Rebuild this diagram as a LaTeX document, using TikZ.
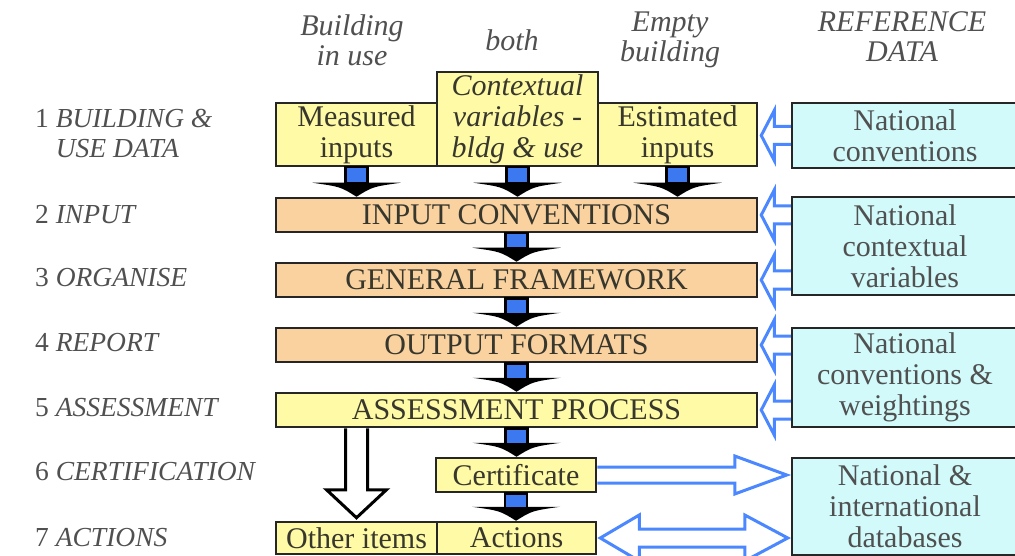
\documentclass[tikz,border=0pt]{standalone}
\usepackage{fontspec}
\setmainfont{LiberationSerif}[Extension=.ttf, UprightFont=*-Regular, ItalicFont=*-Italic, BoldFont=*-Bold, BoldItalicFont=*-BoldItalic]
\usetikzlibrary{calc}
\definecolor{yel}{RGB}{255,250,165}
\definecolor{pch}{RGB}{250,210,160}
\definecolor{cyn}{RGB}{210,250,250}
\definecolor{bsq}{RGB}{60,120,240}
\definecolor{abl}{RGB}{75,135,255}
\definecolor{txt}{RGB}{55,55,45}
\definecolor{labc}{RGB}{80,80,80}
\tikzset{
 box/.style={draw=black!85, line width=2.5pt, inner sep=0pt, align=center, text=txt, font=\fontsize{30}{31}\selectfont},
 ybox/.style={box, fill=yel},
 pbox/.style={box, fill=pch},
 rbox/.style={box, fill=cyn, minimum width=226pt, text=labc},
 lbl/.style={anchor=west, inner sep=0pt, align=left, text=labc, font=\fontsize{27.5}{30}\selectfont},
 hdr/.style={inner sep=0pt, align=center, text=labc, font=\fontsize{30}{30}\selectfont\itshape},
}
\newcommand\FatArr[2]{%
 \path[fill=black] let \p1=(#1), \p2=(#2) in
   (\x1-44pt,\y2+14pt) .. controls (\x1-16pt,\y2+10pt) .. (\x1,\y2)
   .. controls (\x1+16pt,\y2+10pt) .. (\x1+44pt,\y2+14pt) -- cycle;
 \path[fill=bsq, draw=black, line width=2.5pt] let \p1=(#1), \p2=(#2) in
   (\x1-11pt,\y1) rectangle (\x1+11pt,\y2+13pt);
}
\newcommand\HolArr[2]{%
 \path[draw=black, fill=white, line width=3pt] let \p1=(#1), \p2=(#2) in
  (\x2-11pt,\y1) -- (\x2-11pt,\y2+31pt) -- (\x2-30pt,\y2+31pt) -- (\x2,\y2+3pt) -- (\x2+30pt,\y2+31pt) -- (\x2+11pt,\y2+31pt) -- (\x2+11pt,\y1);
}
\newcommand\LArr[2]{%
 \path[draw=abl, fill=white, line width=3pt] let \p1=(#1), \p2=(#2) in
  (\x1,\y2+9pt) -- (\x2+16pt,\y2+9pt) -- (\x2+16pt,\y2+25pt) -- (\x2+3pt,\y2) -- (\x2+16pt,\y2-25pt) -- (\x2+16pt,\y2-9pt) -- (\x1,\y2-9pt);
}
\newcommand\RArr[2]{%
 \path[draw=abl, fill=white, line width=3pt] let \p1=(#1), \p2=(#2) in
  (\x1,\y2+8pt) -- (\x2-52pt,\y2+8pt) -- (\x2-52pt,\y2+19pt) -- (\x2,\y2) -- (\x2-52pt,\y2-19pt) -- (\x2-52pt,\y2-8pt) -- (\x1,\y2-8pt);
}
\newcommand\DArr[2]{%
 \path[draw=abl, fill=white, line width=3pt] let \p1=(#1), \p2=(#2) in
  (\x1+3pt,\y1) -- (\x1+42pt,\y1+23pt) -- (\x1+42pt,\y1+9pt) -- (\x2-43pt,\y1+9pt) -- (\x2-43pt,\y1+23pt) -- (\x2,\y1) -- (\x2-43pt,\y1-23pt) -- (\x2-43pt,\y1-9pt) -- (\x1+42pt,\y1-9pt) -- (\x1+42pt,\y1-23pt) -- cycle;
}
\begin{document}
\begin{tikzpicture}[x=1pt,y=-1pt]
\useasboundingbox (0,0) rectangle (1015,556);
\clip (0,0) rectangle (1015,556);
% headers
\node[hdr] (h1) at (352,40) {Building\\in use};
\node[hdr] (h2) at (512,40) {both};
\node[hdr] (h3) at (670,40) {Empty\\building};
\node[hdr] (h4) at (902,37) {REFERENCE\\DATA};
% row labels
\node[lbl] (l1) at (35,133) {1 \textit{BUILDING \&}\\\hphantom{1}\ \textit{USE DATA}};
\node[lbl] (l2) at (35,215) {2 \textit{INPUT}};
\node[lbl] (l3) at (35,278) {3 \textit{ORGANISE}};
\node[lbl] (l4) at (35,343) {4 \textit{REPORT}};
\node[lbl] (l5) at (35,408) {5 \textit{ASSESSMENT}};
\node[lbl] (l6) at (35,472) {6 \textit{CERTIFICATION}};
\node[lbl] (l7) at (35,538) {7 \textit{ACTIONS}};
% main boxes
\node[ybox, minimum width=161pt, minimum height=63pt] (meas) at (356.5,134.5) {Measured\\inputs};
\node[ybox, minimum width=161pt, minimum height=94pt, font=\fontsize{30}{31}\selectfont\itshape] (ctx) at (517.5,119) {Contextual\\variables -\\bldg \& use};
\node[ybox, minimum width=159pt, minimum height=63pt] (est) at (677.5,134.5) {Estimated\\inputs};
\node[pbox, minimum width=481pt, minimum height=34pt] (inp) at (516.5,215) {INPUT CONVENTIONS};
\node[pbox, minimum width=481pt, minimum height=34pt] (gen) at (516.5,280) {GENERAL FRAMEWORK};
\node[pbox, minimum width=481pt, minimum height=34pt] (out) at (516.5,345) {OUTPUT FORMATS};
\node[ybox, minimum width=481pt, minimum height=34pt] (ass) at (516.5,410) {ASSESSMENT PROCESS};
\node[ybox, minimum width=160pt, minimum height=34pt] (cert) at (516,475) {Certificate};
\node[ybox, minimum width=161pt, minimum height=32pt] (other) at (356.5,538) {Other items};
\node[ybox, minimum width=159pt, minimum height=32pt] (act) at (516.5,538) {Actions};
% reference boxes
\node[rbox, minimum height=65pt] (r1) at (905,135.5) {National\\conventions};
\node[rbox, minimum height=98pt] (r2) at (905,246) {National\\contextual\\variables};
\node[rbox, minimum height=99pt] (r3) at (905,377.5) {National\\conventions \&\\weightings};
\node[rbox, minimum height=97pt] (r4) at (905,506.5) {National \&\\international\\databases};
% flow arrows
\FatArr{meas.south}{meas.south |- inp.north}
\FatArr{ctx.south}{ctx.south |- inp.north}
\FatArr{est.south}{est.south |- inp.north}
\FatArr{inp.south}{gen.north}
\FatArr{gen.south}{out.north}
\FatArr{out.south}{ass.north}
\FatArr{ass.south}{ass.south |- cert.north}
\FatArr{cert.south}{cert.south |- act.north}
\HolArr{ass.south -| other.north}{other.north}
% reference arrows
\LArr{r1.west}{r1.west -| est.east}
\LArr{inp.east -| r2.west}{inp.east}
\LArr{gen.east -| r2.west}{gen.east}
\LArr{out.east -| r3.west}{out.east}
\LArr{ass.east -| r3.west}{ass.east}
\RArr{cert.east}{$(cert.east -| r4.west)+(-4,0)$}
\DArr{act.east}{$(act.east -| r4.west)+(-3,0)$}
\end{tikzpicture}
\end{document}
